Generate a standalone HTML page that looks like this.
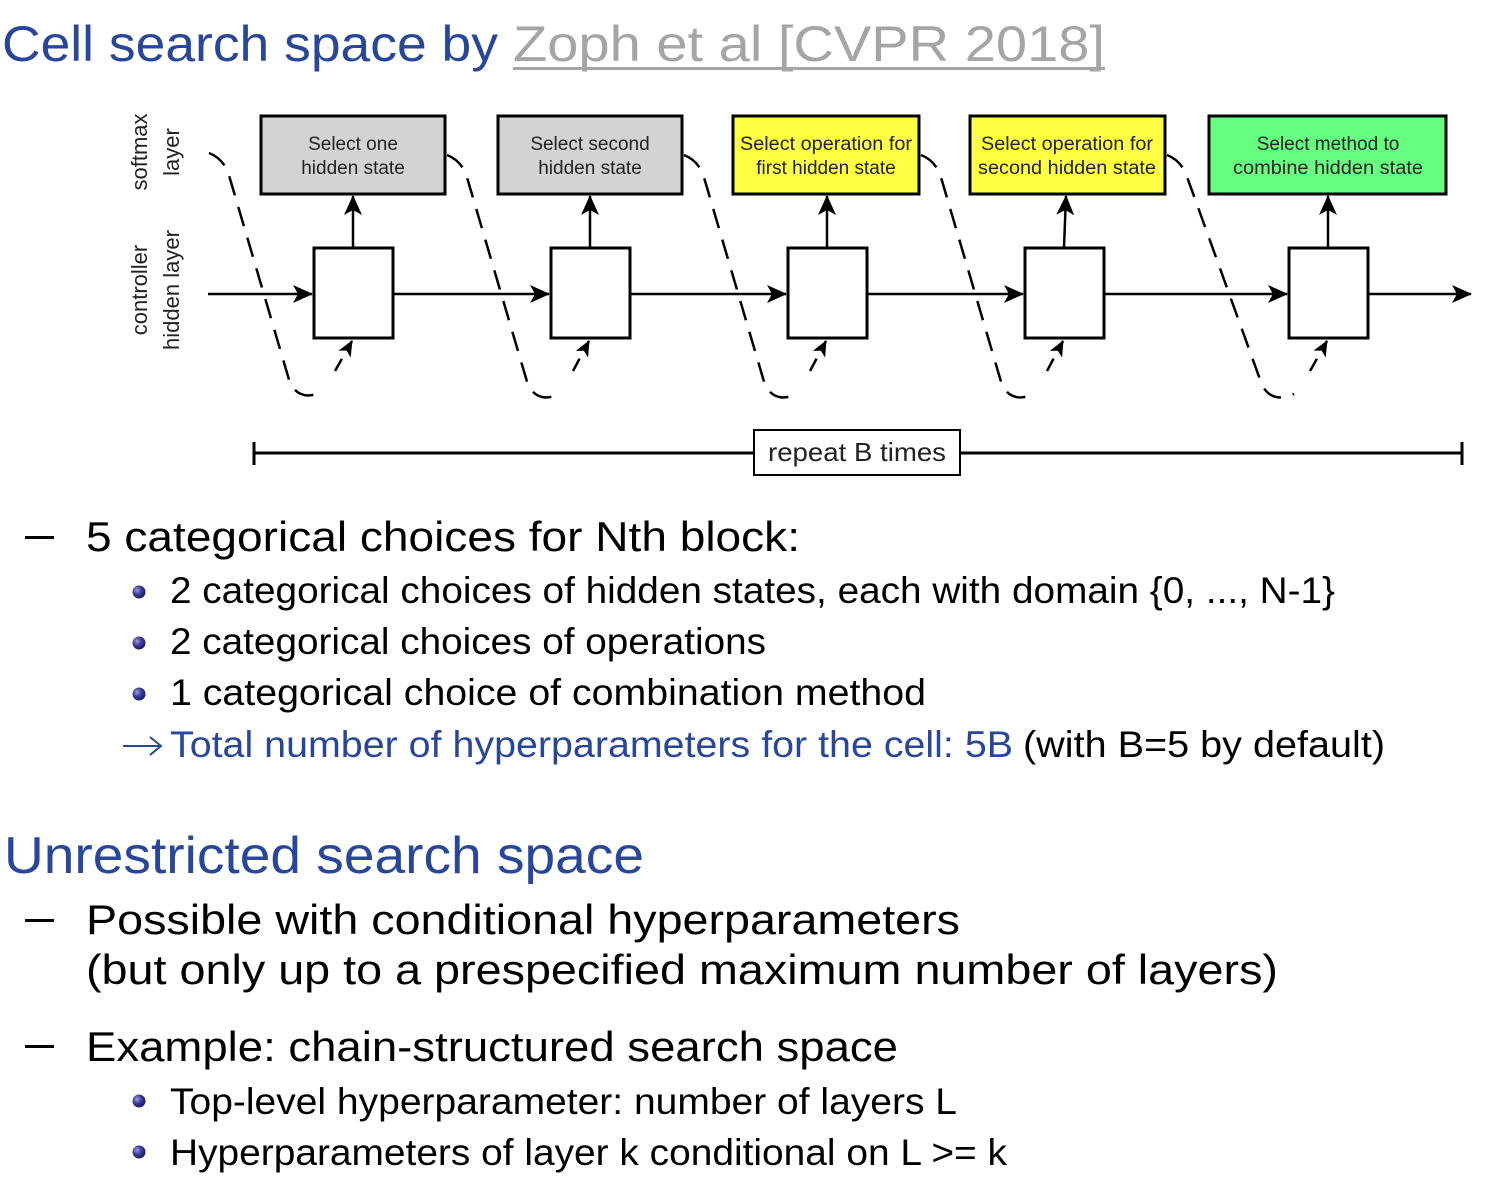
<!DOCTYPE html>
<html><head><meta charset="utf-8"><style>
html,body{margin:0;padding:0;background:#fff;}
svg{display:block;}
.t{font-family:"Liberation Sans",sans-serif;}
</style></head><body>
<svg width="1493" height="1191" viewBox="0 0 1493 1191" xmlns="http://www.w3.org/2000/svg">
<defs>
<radialGradient id="bd" cx="0.35" cy="0.35" r="0.7"><stop offset="0" stop-color="#9a9ae0"/><stop offset="0.5" stop-color="#3a3a9a"/><stop offset="1" stop-color="#1a1a60"/></radialGradient>
<marker id="ah" markerWidth="16" markerHeight="14" refX="15" refY="7" orient="auto" markerUnits="userSpaceOnUse"><path d="M0,0 L16,7 L0,14 L4,7 z" fill="#000"/></marker>
<marker id="ahL" markerWidth="20" markerHeight="18" refX="19" refY="9" orient="auto" markerUnits="userSpaceOnUse"><path d="M0,0 L20,9 L0,18 L5,9 z" fill="#000"/></marker>
</defs>
<g class="t">
<text x="2" y="61" font-size="50" fill="#28479c" textLength="496" lengthAdjust="spacingAndGlyphs">Cell search space by</text>
<text x="513" y="61" font-size="50" fill="#a5a5a5" textLength="592" lengthAdjust="spacingAndGlyphs">Zoph et al [CVPR 2018]</text>
<rect x="513" y="67" width="592" height="3" fill="#a5a5a5"/>

<text transform="translate(147,152) rotate(-90)" font-size="22" text-anchor="middle" fill="#222">softmax</text>
<text transform="translate(179,152) rotate(-90)" font-size="22" text-anchor="middle" fill="#222">layer</text>
<text transform="translate(147,290) rotate(-90)" font-size="22" text-anchor="middle" fill="#222">controller</text>
<text transform="translate(179,290) rotate(-90)" font-size="22" text-anchor="middle" fill="#222">hidden layer</text>

<g fill="none" stroke="#000" stroke-width="2.5" stroke-dasharray="20,12">
<path d="M209,153 Q222,158 228,172 L290,383 Q300,402 322,392"/>
<path d="M447,155 Q460,160 466,174 L528,385 Q538,404 560,394"/>
<path d="M684,155 Q697,160 703,174 L765,385 Q775,404 797,394"/>
<path d="M921,155 Q934,160 940,174 L1002,385 Q1012,404 1034,394"/>
<path d="M1167,155 Q1180,160 1186,174 L1262,385 Q1272,404 1294,394"/>
</g>
<g fill="none" stroke="#000" stroke-width="2.5" stroke-dasharray="14,10" marker-end="url(#ah)">
<path d="M335,371 L352,341"/>
<path d="M573,371 L589,341"/>
<path d="M810,371 L826,341"/>
<path d="M1047,371 L1063,341"/>
<path d="M1310,371 L1327,341"/>
</g>

<g stroke="#000" stroke-width="2.5" marker-end="url(#ahL)" fill="none">
<line x1="208" y1="294" x2="312" y2="294"/>
<line x1="393" y1="294" x2="549" y2="294"/>
<line x1="630" y1="294" x2="786" y2="294"/>
<line x1="867" y1="294" x2="1023" y2="294"/>
<line x1="1104" y1="294" x2="1287" y2="294"/>
<line x1="1368" y1="294" x2="1471" y2="294"/>
<line x1="353" y1="247" x2="353" y2="196"/>
<line x1="590" y1="247" x2="590" y2="196"/>
<line x1="827" y1="247" x2="827" y2="196"/>
<line x1="1064" y1="247" x2="1066" y2="196"/>
<line x1="1328" y1="247" x2="1328" y2="196"/>
</g>

<g fill="#fff" stroke="#000" stroke-width="3">
<rect x="314" y="248" width="79" height="90"/>
<rect x="551" y="248" width="79" height="90"/>
<rect x="788" y="248" width="79" height="90"/>
<rect x="1025" y="248" width="79" height="90"/>
<rect x="1289" y="248" width="79" height="90"/>
</g>

<g stroke="#000" stroke-width="3">
<rect x="261" y="116" width="184" height="78" fill="#d3d3d3"/>
<rect x="498" y="116" width="184" height="78" fill="#d3d3d3"/>
<rect x="733" y="116" width="186" height="78" fill="#ffff44"/>
<rect x="970" y="116" width="195" height="78" fill="#ffff44"/>
<rect x="1209" y="116" width="237" height="78" fill="#66ff80"/>
</g>
<g font-size="19" text-anchor="middle" fill="#222">
<text x="353" y="150">Select one</text><text x="353" y="174">hidden state</text>
<text x="590" y="150">Select second</text><text x="590" y="174">hidden state</text>
<text x="826" y="150" textLength="172" lengthAdjust="spacingAndGlyphs">Select operation for</text><text x="826" y="174">first hidden state</text>
<text x="1067" y="150" textLength="172" lengthAdjust="spacingAndGlyphs">Select operation for</text><text x="1067" y="174" textLength="178" lengthAdjust="spacingAndGlyphs">second hidden state</text>
<text x="1328" y="150">Select method to</text><text x="1328" y="174" textLength="190" lengthAdjust="spacingAndGlyphs">combine hidden state</text>
</g>

<line x1="254" y1="453" x2="1462" y2="453" stroke="#000" stroke-width="3"/>
<line x1="254" y1="442" x2="254" y2="465" stroke="#000" stroke-width="3"/>
<line x1="1462" y1="442" x2="1462" y2="465" stroke="#000" stroke-width="3"/>
<rect x="754" y="430" width="206" height="45" fill="#fff" stroke="#000" stroke-width="2"/>
<text x="857" y="461" font-size="26" text-anchor="middle" fill="#222" textLength="178" lengthAdjust="spacingAndGlyphs">repeat B times</text>

<g fill="#000">
<rect x="25" y="536" width="29" height="3"/>
<rect x="25" y="919" width="29" height="3"/>
<rect x="25" y="1045" width="29" height="3"/>
<text x="86" y="551" font-size="42" textLength="714" lengthAdjust="spacingAndGlyphs">5 categorical choices for Nth block:</text>
<text x="170" y="603" font-size="37" textLength="1165" lengthAdjust="spacingAndGlyphs">2 categorical choices of hidden states, each with domain {0, ..., N-1}</text>
<text x="170" y="654" font-size="37" textLength="596" lengthAdjust="spacingAndGlyphs">2 categorical choices of operations</text>
<text x="170" y="705" font-size="37" textLength="756" lengthAdjust="spacingAndGlyphs">1 categorical choice of combination method</text>
<text x="170" y="757" font-size="37" fill="#28479c" textLength="843" lengthAdjust="spacingAndGlyphs">Total number of hyperparameters for the cell: 5B</text>
<text x="1023" y="757" font-size="37" textLength="362" lengthAdjust="spacingAndGlyphs">(with B=5 by default)</text>
<text x="4" y="873" font-size="52" fill="#28479c" textLength="640" lengthAdjust="spacingAndGlyphs">Unrestricted search space</text>
<text x="86" y="934" font-size="42" textLength="874" lengthAdjust="spacingAndGlyphs">Possible with conditional hyperparameters</text>
<text x="86" y="984" font-size="42" textLength="1192" lengthAdjust="spacingAndGlyphs">(but only up to a prespecified maximum number of layers)</text>
<text x="86" y="1061" font-size="42" textLength="812" lengthAdjust="spacingAndGlyphs">Example: chain-structured search space</text>
<text x="170" y="1114" font-size="37" textLength="787" lengthAdjust="spacingAndGlyphs">Top-level hyperparameter: number of layers L</text>
<text x="170" y="1165" font-size="37" textLength="837" lengthAdjust="spacingAndGlyphs">Hyperparameters of layer k conditional on L &gt;= k</text>
</g>
<line x1="123" y1="746" x2="160" y2="746" stroke="#28479c" stroke-width="2"/>
<path d="M150,737 L161,746 L150,755" fill="none" stroke="#28479c" stroke-width="2"/>
<g fill="url(#bd)">
<circle cx="139" cy="592" r="6.5"/><circle cx="139" cy="643" r="6.5"/><circle cx="139" cy="694" r="6.5"/>
<circle cx="139" cy="1101" r="6.5"/><circle cx="139" cy="1152" r="6.5"/>
</g>
</g>
</svg>
</body></html>
